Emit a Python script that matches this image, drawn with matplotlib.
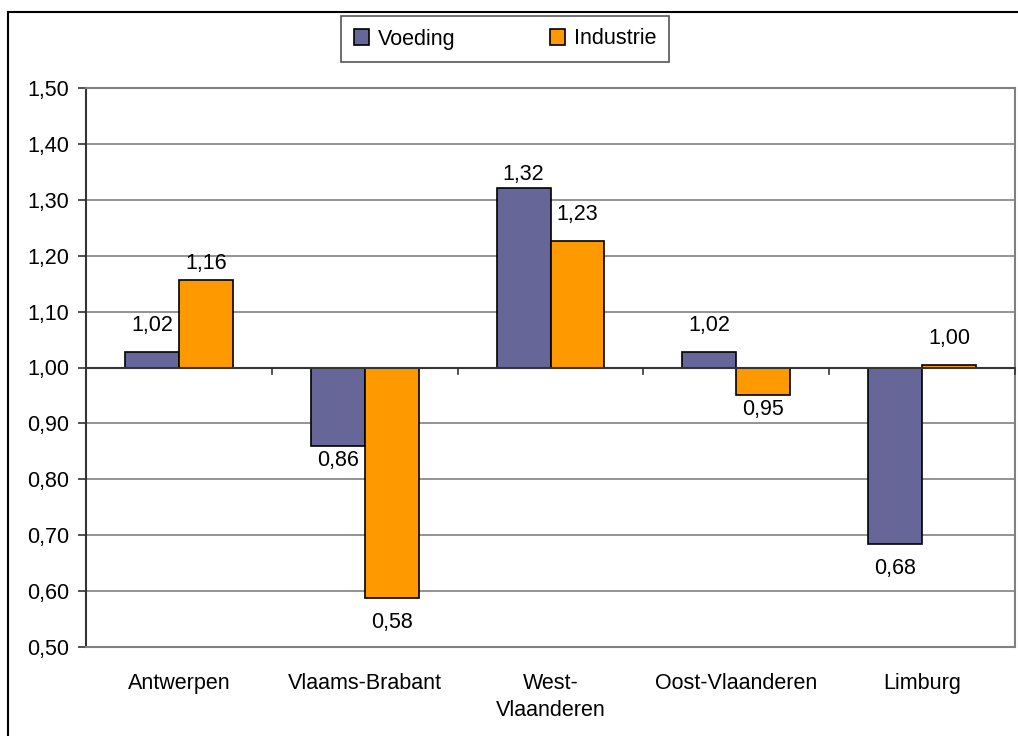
import matplotlib
matplotlib.use("Agg")
import matplotlib.pyplot as plt
from matplotlib.lines import Line2D
import numpy as np

categories = ["Antwerpen", "Vlaams-Brabant", "West-\nVlaanderen", "Oost-Vlaanderen", "Limburg"]
voeding = [1.027, 0.859, 1.322, 1.027, 0.685]
industrie = [1.157, 0.587, 1.227, 0.950, 1.005]
voeding_labels = ["1,02", "0,86", "1,32", "1,02", "0,68"]
industrie_labels = ["1,16", "0,58", "1,23", "0,95", "1,00"]
yticks = [0.50, 0.60, 0.70, 0.80, 0.90, 1.00, 1.10, 1.20, 1.30, 1.40, 1.50]
ytick_labels = ["0,50", "0,60", "0,70", "0,80", "0,90", "1,00", "1,10", "1,20", "1,30", "1,40", "1,50"]
base = 1.0

# label offsets in pixels (style only)
v_off = [27, -14, 13, 27, -25]
i_off = [16, -24, 26, -14, 26]

plt.rcParams['font.family'] = ['Liberation Sans', 'DejaVu Sans']
W, H = 1018, 736
fig = plt.figure(figsize=(W / 100, H / 100), dpi=100)
ax = fig.add_axes([86 / W, 1 - 647 / H, (1015 - 86) / W, (647 - 88) / H])

x = np.arange(len(categories))
w = 0.29
c_v = "#666699"
c_i = "#FF9900"
vh = [v - base for v in voeding]
ih = [v - base for v in industrie]
ax.bar(x - w / 2, vh, w, bottom=base, color=c_v, edgecolor="black", linewidth=1.2, label="Voeding", zorder=3)
ax.bar(x + w / 2, ih, w, bottom=base, color=c_i, edgecolor="black", linewidth=1.2, label="Industrie", zorder=3)

fs = 15.5
for i in range(len(categories)):
    ax.annotate(voeding_labels[i], (x[i] - w / 2, voeding[i]), xytext=(0, v_off[i] * 0.72),
                textcoords="offset points", ha="center", va="center", fontsize=fs)
    ax.annotate(industrie_labels[i], (x[i] + w / 2, industrie[i]), xytext=(0, i_off[i] * 0.72),
                textcoords="offset points", ha="center", va="center", fontsize=fs)

ax.set_xlim(-0.5, len(categories) - 0.5)
ax.set_ylim(0.5, 1.5)
ax.set_yticks(yticks)
ax.set_yticklabels(ytick_labels, fontsize=fs)
ax.yaxis.grid(True, color="#808080", linewidth=1.2, zorder=0)
ax.set_axisbelow(True)
for s in ["top", "right", "bottom"]:
    ax.spines[s].set_color("#808080")
    ax.spines[s].set_linewidth(1.5)
ax.spines["left"].set_color("#333333")
ax.spines["left"].set_linewidth(1.5)
ax.tick_params(axis="y", length=6, width=1.2, color="#333333", pad=6)

# category axis crossing at 1.00
ax.axhline(base, color="#333333", linewidth=1.5, zorder=4)
for b in np.arange(len(categories) + 1) - 0.5:
    ax.plot([b, b], [base, base - 0.012], color="#333333", linewidth=1.2, zorder=4, clip_on=False)
ax.set_xticks(x)
ax.set_xticklabels(categories, fontsize=fs, linespacing=1.35, va="top")
ax.tick_params(axis="x", length=0, pad=19)

fig.legend(loc="center", bbox_to_anchor=(505 / W, 1 - 39 / H), ncol=2, fontsize=fs,
           frameon=True, fancybox=False, edgecolor="#555555", framealpha=1,
           handlelength=0.7, handleheight=0.7, columnspacing=4.4, handletextpad=0.4,
           borderpad=0.6, borderaxespad=0)
leg = fig.legends[0]
leg.get_frame().set_linewidth(1.2)
leg.set_zorder(10)

# outer chart border (top and left visible)
fig.add_artist(Line2D([8 / W, 1.0], [1 - 12 / H, 1 - 12 / H], color="black", linewidth=1.5))
fig.add_artist(Line2D([8 / W, 8 / W], [0, 1 - 12 / H], color="black", linewidth=1.5))

fig.savefig("out.png", dpi=100)
